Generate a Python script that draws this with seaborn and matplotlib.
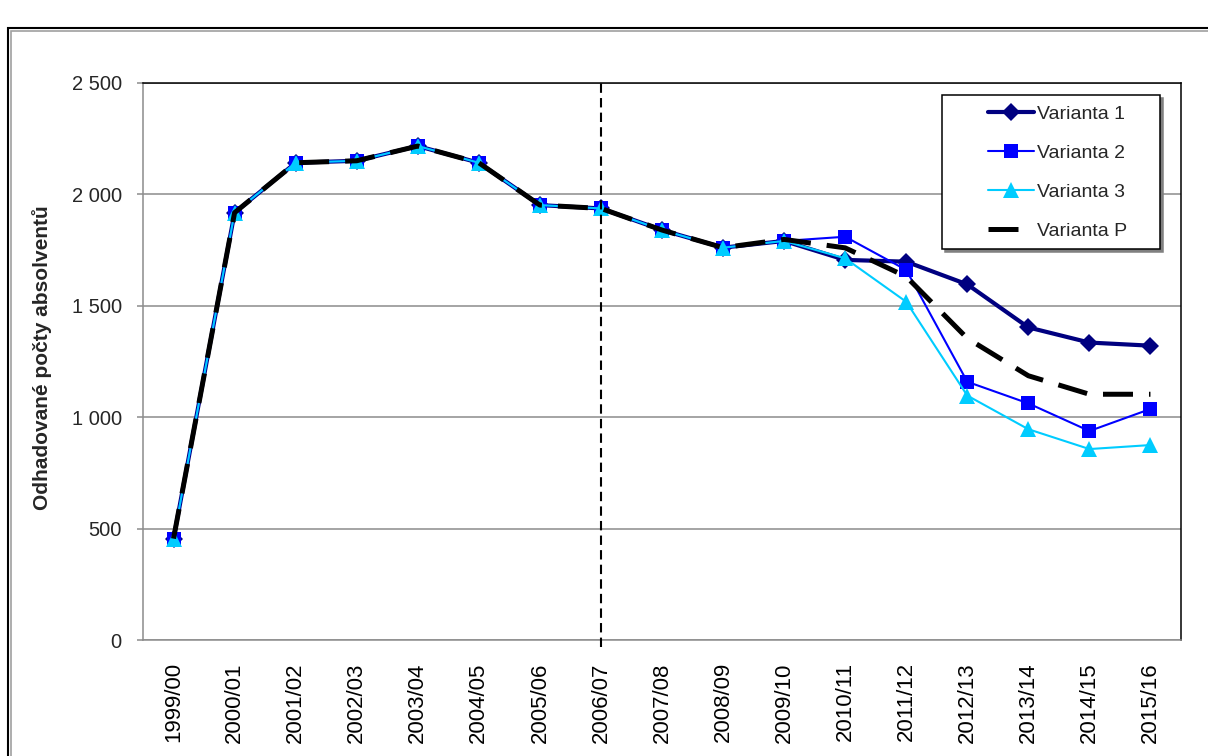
import numpy as np
import seaborn as sns
import matplotlib.pyplot as plt
from matplotlib.lines import Line2D
from matplotlib.patches import Rectangle
from matplotlib.legend_handler import HandlerLine2D
from matplotlib.ticker import FuncFormatter

# School years on the x axis
years = ["1999/00", "2000/01", "2001/02", "2002/03", "2003/04", "2004/05",
         "2005/06", "2006/07", "2007/08", "2008/09", "2009/10", "2010/11",
         "2011/12", "2012/13", "2013/14", "2014/15", "2015/16"]

# Estimated numbers of graduates per variant
varianta_1 = [455, 1918, 2142, 2151, 2217, 2142, 1952, 1937, 1840, 1761, 1791,
              1706, 1698, 1596, 1403, 1335, 1321]
varianta_2 = [455, 1918, 2142, 2151, 2217, 2142, 1952, 1937, 1840, 1761, 1791,
              1810, 1661, 1159, 1062, 938, 1037]
varianta_3 = [455, 1918, 2142, 2151, 2217, 2142, 1952, 1937, 1840, 1761, 1791,
              1713, 1518, 1097, 946, 857, 875]
varianta_p = [455, 1918, 2142, 2151, 2217, 2142, 1952, 1937, 1840, 1761, 1798,
              1760, 1631, 1354, 1186, 1103, 1103]
forecast_start = "2006/07"

sns.set_style("white")
plt.rcParams['font.family'] = ['Liberation Sans', 'DejaVu Sans']

fig = plt.figure(figsize=(12.08, 7.56), dpi=100)
ax = fig.add_axes([143 / 1208, 1 - 640 / 756, (1181 - 143) / 1208, (640 - 83) / 756])

x = np.arange(len(years))

sns.lineplot(x=x, y=varianta_1, ax=ax, color='#000080', linewidth=3.0,
             marker='D', markersize=9.5, markeredgewidth=0, label='Varianta 1',
             errorbar=None, zorder=3)
sns.lineplot(x=x, y=varianta_2, ax=ax, color='#0000FF', linewidth=1.5,
             marker='s', markersize=10.5, markeredgewidth=0, label='Varianta 2',
             errorbar=None, zorder=4)
sns.lineplot(x=x, y=varianta_3, ax=ax, color='#00CCFF', linewidth=1.5,
             marker='^', markersize=11, markeredgewidth=0, label='Varianta 3',
             errorbar=None, zorder=5)
sns.lineplot(x=x, y=varianta_p, ax=ax, color='black', linewidth=3.6,
             linestyle=(0, (6, 3.2)), label='Varianta P',
             errorbar=None, zorder=6)

# start of the forecast
ax.axvline(years.index(forecast_start), ymin=-0.012, ymax=1, color='black',
           linewidth=1.5, linestyle=(0, (4.5, 2.5)), clip_on=False, zorder=7)

ax.set_xlim(-0.5, len(years) - 0.5)
ax.set_ylim(0, 2500)
ax.set_xticks(x)
ax.set_xticklabels(years, rotation=90, fontsize=16)
ax.set_xticks(np.arange(-0.5, len(years), 1), minor=True)
ax.set_yticks(np.arange(0, 2501, 500))
ax.yaxis.set_major_formatter(FuncFormatter(lambda v, p: f"{int(v):,}".replace(",", " ")))

ax.tick_params(axis='x', which='major', length=0, pad=16, colors='black')
ax.tick_params(axis='x', which='minor', length=4.3, width=1.1, color='#8c8c8c')
ax.tick_params(axis='y', which='major', length=4.3, width=1.1, color='#8c8c8c',
               labelsize=14.5, pad=11, left=True)

ax.yaxis.grid(True, color='#8c8c8c', linewidth=1.1)
ax.set_axisbelow(True)
ax.set_xlabel('')
ax.set_ylabel('')

for side in ['top', 'right']:
    ax.spines[side].set_color('black')
    ax.spines[side].set_linewidth(1.1)
for side in ['left', 'bottom']:
    ax.spines[side].set_color('#8c8c8c')
    ax.spines[side].set_linewidth(1.1)

fig.text(42.5 / 1208, 1 - 358 / 756, 'Odhadované počty absolventů', rotation=90,
         ha='center', va='center', fontsize=15, fontweight='bold')

handles, labels = ax.get_legend_handles_labels()
leg = ax.legend(handles, labels, loc='upper left',
                bbox_to_anchor=(0.770, 0.978, 0.210, 0.0), mode='expand',
                borderaxespad=0, fontsize=14, frameon=True, fancybox=False,
                shadow={'color': '#808080', 'alpha': 1}, edgecolor='black',
                handlelength=4.2, handletextpad=0.15, labelspacing=1.1,
                borderpad=0.5, numpoints=1,
                handler_map={Line2D: HandlerLine2D(xpad=1.86, numpoints=1)})
leg.get_frame().set_linewidth(1.1)

# outer chart frame
fig.patches.append(Rectangle((8 / 1208, -0.1), 1.2, 1 - 28 / 756 + 0.1,
                             transform=fig.transFigure, fill=False,
                             edgecolor='black', linewidth=1.5))
fig.patches.append(Rectangle((10.5 / 1208, -0.1), 1.2, 1 - 31 / 756 + 0.1,
                             transform=fig.transFigure, fill=False,
                             edgecolor='#a0a0a0', linewidth=1.2))

fig.savefig('out.png', dpi=100)
